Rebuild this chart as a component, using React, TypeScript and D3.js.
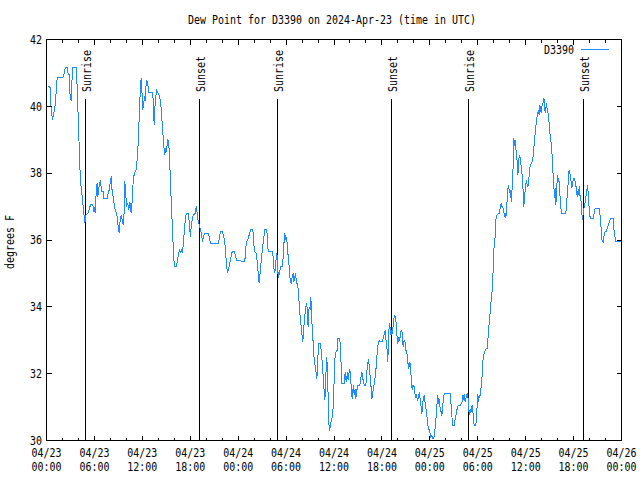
import React from "react";
import * as d3 from "d3";

const title = "Dew Point for D3390 on 2024-Apr-23 (time in UTC)";
const seriesName = "D3390";
const yLabel = "degrees F";
const startUTC = Date.UTC(2024, 3, 23);
const endUTC = Date.UTC(2024, 3, 26);
const yDomain: [number, number] = [30, 42];
const yTickValues = [30, 32, 34, 36, 38, 40, 42];
const sunLabels = ["Sunrise", "Sunset", "Sunrise", "Sunset", "Sunrise", "Sunset"];
const sunHours = [4.88, 19.16, 28.9, 43.2, 52.84, 67.24];

// [hours since 04/23 00:00 UTC, dew point °F]
const day1: [number, number][] = [
  [0.25,40.6],[0.5,40.55],[0.55,40.0],[0.75,39.6],[0.92,39.8],[1.13,40.1],[1.25,40.6],[1.34,40.85],[2.05,40.85],[2.17,40.95],[2.34,41.15],[2.59,41.15],[2.67,41.0],[2.84,40.95],[2.92,40.4],[3.09,40.15],[3.17,40.7],[3.30,41.15],[3.72,41.15],[3.80,40.8],[3.92,40.0],[4.05,39.1],[4.17,38.2],[4.30,37.65],[4.42,37.4],[4.67,36.8],[4.80,36.5],[4.93,36.75],[5.18,36.8],[5.38,36.95],[5.51,37.05],[5.80,37.05],[5.93,36.85],[6.01,37.0],[6.09,36.8],[6.22,37.4],[6.34,37.7],[6.43,37.3],[6.59,37.6],[6.76,37.8],[6.85,37.55],[6.93,37.45],[7.10,37.45],[7.18,37.25],[7.60,37.25],[7.68,37.35],[7.85,37.5],[7.97,37.7],[8.10,37.9],[8.22,37.45],[8.39,37.25],[8.51,37.0],[8.68,36.85],[8.85,36.7],[8.97,36.4],[9.10,36.2],[9.22,36.6],[9.35,36.75],[9.48,36.6],[9.60,36.45],[9.73,36.85],[9.81,37.75],[9.93,37.35],[10.02,37.0],[10.18,37.1],[10.31,36.9],[10.43,37.15],[10.60,36.8],[10.69,37.0],[10.77,37.45],[10.89,37.85],[11.02,38.0],[11.23,38.1],[11.35,38.4],[11.48,38.9],[11.60,39.6],[11.73,40.4],[11.85,40.85],[11.94,40.5],[12.06,39.9],[12.19,40.1],
  [12.27,40.3],[12.36,40.15],[12.44,40.55],[12.56,40.8],[12.69,40.65],[12.81,40.4],[13.31,40.4],[13.40,39.9],[13.48,39.45],[13.57,39.95],[13.69,40.3],[13.82,40.48],[13.94,40.4],[14.15,40.3],[14.28,40.15],[14.40,39.8],[14.53,39.3],[14.65,39.0],[14.73,38.7],[14.82,38.55],[14.90,38.75],[15.03,38.65],[15.15,39.0],[15.28,38.95],[15.36,38.7],[15.49,37.95],[15.61,37.2],[15.74,36.5],[15.86,35.85],[15.94,35.4],[16.07,35.2],[16.28,35.2],[16.40,35.4],[16.53,35.6],[16.65,35.7],[16.78,35.65],[16.90,35.7],[17.03,35.62],[17.15,35.95],[17.28,36.3],[17.41,36.7],[17.53,36.8],[17.78,36.8],[17.91,36.4],[18.03,36.1],[18.12,36.4],[18.24,36.6],[18.37,36.75],[18.57,36.75],[18.66,36.9],[18.78,37.0],[18.91,36.7],[19.03,36.5],[19.16,36.45],[19.28,36.3],[19.41,36.2],[19.53,35.95],[19.66,36.1],[19.78,36.2],[20.29,36.2],[20.41,36.05],[20.54,35.9],[21.54,35.9],[21.66,36.1],[21.79,36.25],[22.04,36.25],[22.16,36.1],[22.29,36.0],[22.41,35.7],[22.54,35.25],[22.66,35.05],[22.79,35.1],[22.92,35.3],[23.04,35.4],[23.17,35.6],[23.29,35.65],[23.54,35.65],[23.67,35.5],[23.79,35.4]
];

const day2: [number, number][] = [
  [24.83,35.35],[24.96,35.8],[25.09,35.95],[25.25,36.05],[25.38,36.15],[25.54,36.3],[25.84,36.3],[25.92,36.0],[26.05,35.65],[26.30,35.6],[26.42,35.2],[26.55,34.95],[26.63,34.7],[26.71,34.9],[26.80,35.15],[26.92,35.45],[27.05,35.75],[27.17,36.0],[27.34,36.3],[27.59,36.3],[27.67,35.95],[27.76,35.65],[28.26,35.65],[28.38,35.5],[28.47,35.15],[28.59,35.0],[28.68,35.25],[28.76,35.45],[28.84,35.6],[28.93,35.4],[29.01,34.85],[29.09,35.05],[29.18,35.0],[29.26,35.15],[29.34,35.2],[29.55,35.2],[29.64,35.5],[29.76,36.0],[29.84,36.2],[29.93,36.0],[30.01,36.1],[30.14,35.9],[30.26,35.5],[30.39,35.2],[30.51,34.8],[30.64,34.7],[30.72,34.85],[30.89,35.0],[30.97,34.75],[31.10,34.9],[31.18,35.0],[31.30,34.75],[31.43,34.65],[31.56,34.45],[31.68,33.9],[31.85,33.5],[31.97,33.2],[32.10,32.95],[32.18,33.3],[32.31,33.6],[32.43,33.95],[32.52,34.05],[32.60,34.1],[32.68,33.65],[32.77,33.4],[32.85,33.9],[32.93,34.0],[33.02,33.9],[33.10,34.3],[33.22,33.6],[33.35,33.1],[33.47,32.55],[33.60,32.3],[33.73,32.1],[33.85,31.85],[33.93,32.15],[34.06,32.9],[34.31,32.9],[34.44,32.6],[34.56,32.2],[34.69,31.8],[34.77,31.45],[34.85,31.2],[34.94,31.6],[35.02,32.2],[35.10,32.5],[35.19,32.0],[35.31,30.9],[35.40,30.3],[35.52,30.4],[35.65,30.6],[35.77,30.7],[35.90,31.0],[36.02,31.8],[36.10,32.4],[36.19,32.6],
  [36.31,32.7],[36.40,32.7],[36.48,33.05],[36.73,33.05],[36.81,32.7],[36.90,32.25],[36.98,31.7],[37.27,31.7],[37.36,31.95],[37.44,32.05],[37.52,31.75],[37.61,31.9],[37.69,32.05],[37.77,31.8],[37.90,32.05],[37.98,32.15],[38.11,31.8],[38.19,31.4],[38.28,31.25],[38.36,31.5],[38.44,31.65],[38.53,31.35],[38.65,31.55],[38.73,31.25],[38.86,31.5],[38.98,31.65],[39.24,31.65],[39.36,31.85],[39.49,32.05],[39.57,31.85],[39.69,31.8],[39.78,31.65],[39.99,31.65],[40.07,31.9],[40.15,32.15],[40.24,32.3],[40.32,32.45],[40.40,32.25],[40.53,31.9],[40.66,31.55],[40.74,31.25],[40.82,31.35],[40.90,31.5],[41.03,31.7],[41.16,31.9],[41.28,32.2],[41.41,32.65],[41.53,32.9],[41.66,33.0],[41.78,32.95],[42.07,32.95],[42.20,33.1],[42.32,33.2],[42.41,33.3],[42.53,32.95],[42.66,32.7],[42.74,32.35],[42.83,33.1],[42.91,33.4],[42.99,33.5],[43.08,33.15],[43.16,33.3],[43.24,33.15],[43.33,33.25],[43.41,33.45],[43.49,33.65],[43.62,33.75],[43.74,33.6],[43.83,33.4],[43.91,33.05],[43.99,32.9],[44.08,33.05],[44.16,33.0],[44.29,33.1],[44.37,33.25],[44.49,33.3],[44.58,33.1],[44.66,32.8],[44.79,33.0],[44.91,32.95],[45.00,32.7],[45.12,32.65],[45.25,32.35],[45.33,32.15],[45.41,32.2],[45.50,32.35],[45.62,32.05],[45.71,31.75],[45.79,31.5],[45.87,31.65],[46.00,31.65],[46.08,31.5],[46.21,31.3],[46.33,31.35],[46.46,31.2],[46.58,31.3],[46.71,31.45],[46.79,31.2],[46.92,31.0],[47.00,30.8],[47.08,31.05],[47.21,31.3],[47.29,31.35],[47.42,31.1],[47.54,30.9],[47.67,30.65],[47.75,30.45],[47.87,30.35],[48.00,30.25]
];

const day3: [number, number][] = [
  [48.13,30.1],[48.25,30.15],[48.35,30.05],[48.50,30.05],[48.63,30.3],[48.75,30.6],[48.84,30.9],[48.92,31.15],[49.00,31.35],[49.09,31.1],[49.17,31.25],[49.30,30.95],[49.42,30.85],[49.50,30.75],[49.59,30.9],[49.67,31.2],[49.80,31.4],[50.55,31.4],[50.63,31.15],[50.76,30.75],[50.84,30.45],[51.05,30.45],[51.17,30.65],[51.30,30.8],[51.42,30.95],[51.55,31.05],[51.80,31.05],[51.92,31.1],[52.05,31.15],[52.13,31.35],[52.22,31.2],[52.30,31.4],[52.42,31.15],[52.55,31.3],[52.68,31.4],[52.76,31.35],[52.88,30.9],[52.97,30.75],[53.05,30.95],[53.13,30.85],[53.22,30.9],[53.30,31.05],[53.38,30.9],[53.47,30.65],[53.55,30.45],[53.76,30.45],[53.84,30.75],[53.93,31.05],[54.01,31.4],[54.09,31.15],[54.18,31.3],[54.30,31.35],[54.43,31.6],[54.55,31.95],[54.68,32.5],[54.81,32.6],[54.93,32.7],[55.06,32.75],[55.18,32.75],[55.31,33.15],[55.43,33.5],[55.56,33.85],[55.68,34.2],[55.81,34.5],[55.93,35.1],[56.06,35.9],[56.18,36.1],[56.27,36.6],[56.39,36.75],[56.52,36.78],[56.68,36.78],[56.81,36.95],[56.93,37.1],[57.02,37.0],[57.14,37.0],[57.22,36.85],[57.35,36.75],[57.43,36.82],[57.52,36.65],[57.60,36.9],[57.68,37.2],[57.77,37.55],[57.85,37.6],[57.98,37.45],[58.06,37.5],[58.14,37.3],[58.23,37.15],[58.31,37.6],[58.44,38.25],[58.52,39.05],[58.60,38.8],[58.69,39.0],[58.77,38.75],[58.85,38.55],[58.94,38.35],[59.02,37.95],[59.10,38.2],[59.19,38.55],[59.27,38.5],[59.35,38.4],[59.44,38.2],[59.52,38.0],[59.61,37.85],[59.69,37.4],[59.77,37.0],[59.85,37.25],[59.94,37.5],[60.02,37.7],[60.10,37.75],[60.19,37.65],[60.27,37.6],
  [60.36,37.65],[60.48,38.1],[60.61,38.25],[60.73,38.3],[60.86,38.35],[60.98,38.6],[61.11,39.0],[61.23,39.3],[61.36,39.6],[61.48,39.75],[61.61,39.9],[61.69,39.75],[61.77,40.05],[61.86,39.9],[61.94,39.8],[62.07,40.05],[62.19,40.1],[62.28,40.25],[62.36,40.05],[62.44,39.8],[62.53,39.95],[62.61,40.1],[62.69,39.9],[62.78,39.85],[62.86,39.65],[62.94,39.5],[63.03,39.2],[63.15,39.0],[63.28,38.65],[63.40,38.1],[63.53,37.6],[63.61,37.25],[63.69,37.55],[63.78,37.05],[63.90,37.6],[63.99,37.95],[64.07,37.75],[64.15,37.85],[64.28,37.4],[64.36,37.05],[64.49,36.8],[65.03,36.8],[65.16,37.2],[65.28,37.55],[65.36,37.9],[65.45,38.1],[65.53,38.0],[65.66,37.8],[65.78,37.55],[65.86,37.7],[65.99,37.85],[66.12,37.85],[66.24,37.7],[66.37,37.5],[66.45,37.3],[66.53,37.45],[66.62,37.35],[66.70,37.6],[66.78,37.35],[66.91,37.25],[67.03,36.8],[67.12,36.6],[67.24,36.9],[67.37,37.0],[67.49,37.2],[67.62,37.4],[67.74,37.65],[67.83,37.4],[67.95,36.95],[68.08,36.65],[68.45,36.65],[68.58,36.8],[68.70,36.95],[69.20,36.95],[69.33,36.7],[69.46,36.3],[69.54,36.0],[69.71,35.95],[69.83,36.15],[69.96,36.25],[70.08,36.25],[70.21,36.35],[70.37,36.45],[70.50,36.55],[70.62,36.65],[70.96,36.65],[71.04,36.35],[71.17,36.1],[71.29,35.95],[71.88,35.95]
];

const W = 640, H = 480;
const L = 46.5, R = 621.5, T = 39.5, B = 440.5;
const LINE_COLOR = "#1e8cff";
const FONT = "'DejaVu Sans Mono', 'Liberation Mono', monospace";
const CHAR_W = 6;

const hourMs = 3600 * 1000;
const toDate = (h: number) => new Date(startUTC + h * hourMs);

function T_(props: { x: number; y: number; s: string; anchor?: string; transform?: string }) {
  const { x, y, s, anchor = "start", transform } = props;
  return (
    <text
      x={x}
      y={y}
      transform={transform}
      textAnchor={anchor}
      fontFamily={FONT}
      fontSize={12}
      fill="#000"
      textLength={s.length * CHAR_W}
      lengthAdjust="spacingAndGlyphs"
    >
      {s}
    </text>
  );
}

export default function App() {
  const x = d3.scaleUtc().domain([new Date(startUTC), new Date(endUTC)]).range([L, R]);
  const y = d3.scaleLinear().domain(yDomain).range([B, T]);

  const data = [...day1, ...day2, ...day3];
  const line = d3
    .line<[number, number]>()
    .x((d) => x(toDate(d[0])))
    .y((d) => y(d[1]))
    .curve(d3.curveLinear);

  const minorTicks = x.ticks(d3.utcHour.every(2)!);
  const majorTicks = x.ticks(d3.utcHour.every(6)!);
  const fmtDate = d3.utcFormat("%m/%d");
  const fmtTime = d3.utcFormat("%H:%M");

  return (
    <svg
      width={W}
      height={H}
      style={{ position: "absolute", left: 0, top: 0, background: "#fff", display: "block" }}
    >
      <rect x={0} y={0} width={W} height={H} fill="#fff" />
      <T_ x={332} y={24} s={title} anchor="middle" />

      {/* sunrise / sunset */}
      {sunHours.map((h, i) => {
        const sx = Math.round(x(toDate(h)) - 0.5) + 0.5;
        return (
          <g key={"sun" + i}>
            <line x1={sx} x2={sx} y1={99} y2={B} stroke="#000" strokeWidth={1} shapeRendering="crispEdges" />
            <T_ x={0} y={0} s={sunLabels[i]} transform={`translate(${sx + 5.5},92) rotate(-90)`} />
          </g>
        );
      })}

      {/* data */}
      <path d={line(data) || ""} fill="none" stroke={LINE_COLOR} strokeWidth={1} shapeRendering="crispEdges" />

      {/* frame */}
      <rect x={L} y={T} width={R - L} height={B - T} fill="none" stroke="#000" strokeWidth={1} shapeRendering="crispEdges" />

      {/* x ticks */}
      {minorTicks.map((t, i) => {
        const tx = x(t);
        const isMajor = t.getUTCHours() % 6 === 0;
        const len = isMajor ? 5 : 3;
        return (
          <g key={"xt" + i}>
            <line x1={tx} x2={tx} y1={B} y2={B - len} stroke="#000" shapeRendering="crispEdges" />
            <line x1={tx} x2={tx} y1={T} y2={T + len} stroke="#000" shapeRendering="crispEdges" />
          </g>
        );
      })}
      {majorTicks.map((t, i) => (
        <g key={"xl" + i}>
          <T_ x={x(t)} y={457} s={fmtDate(t)} anchor="middle" />
          <T_ x={x(t)} y={471} s={fmtTime(t)} anchor="middle" />
        </g>
      ))}

      {/* y ticks */}
      {yTickValues.map((v, i) => {
        const ty = y(v);
        return (
          <g key={"yt" + i}>
            <line x1={L} x2={L + 5} y1={ty} y2={ty} stroke="#000" shapeRendering="crispEdges" />
            <line x1={R} x2={R - 5} y1={ty} y2={ty} stroke="#000" shapeRendering="crispEdges" />
            <T_ x={42} y={ty + 4.3} s={String(v)} anchor="end" />
          </g>
        );
      })}

      <T_ x={0} y={0} s={yLabel} anchor="middle" transform="translate(14,242) rotate(-90)" />

      {/* legend */}
      <T_ x={574} y={53.5} s={seriesName} anchor="end" />
      <line x1={581} x2={609} y1={49.5} y2={49.5} stroke={LINE_COLOR} strokeWidth={1} shapeRendering="crispEdges" />
    </svg>
  );
}
